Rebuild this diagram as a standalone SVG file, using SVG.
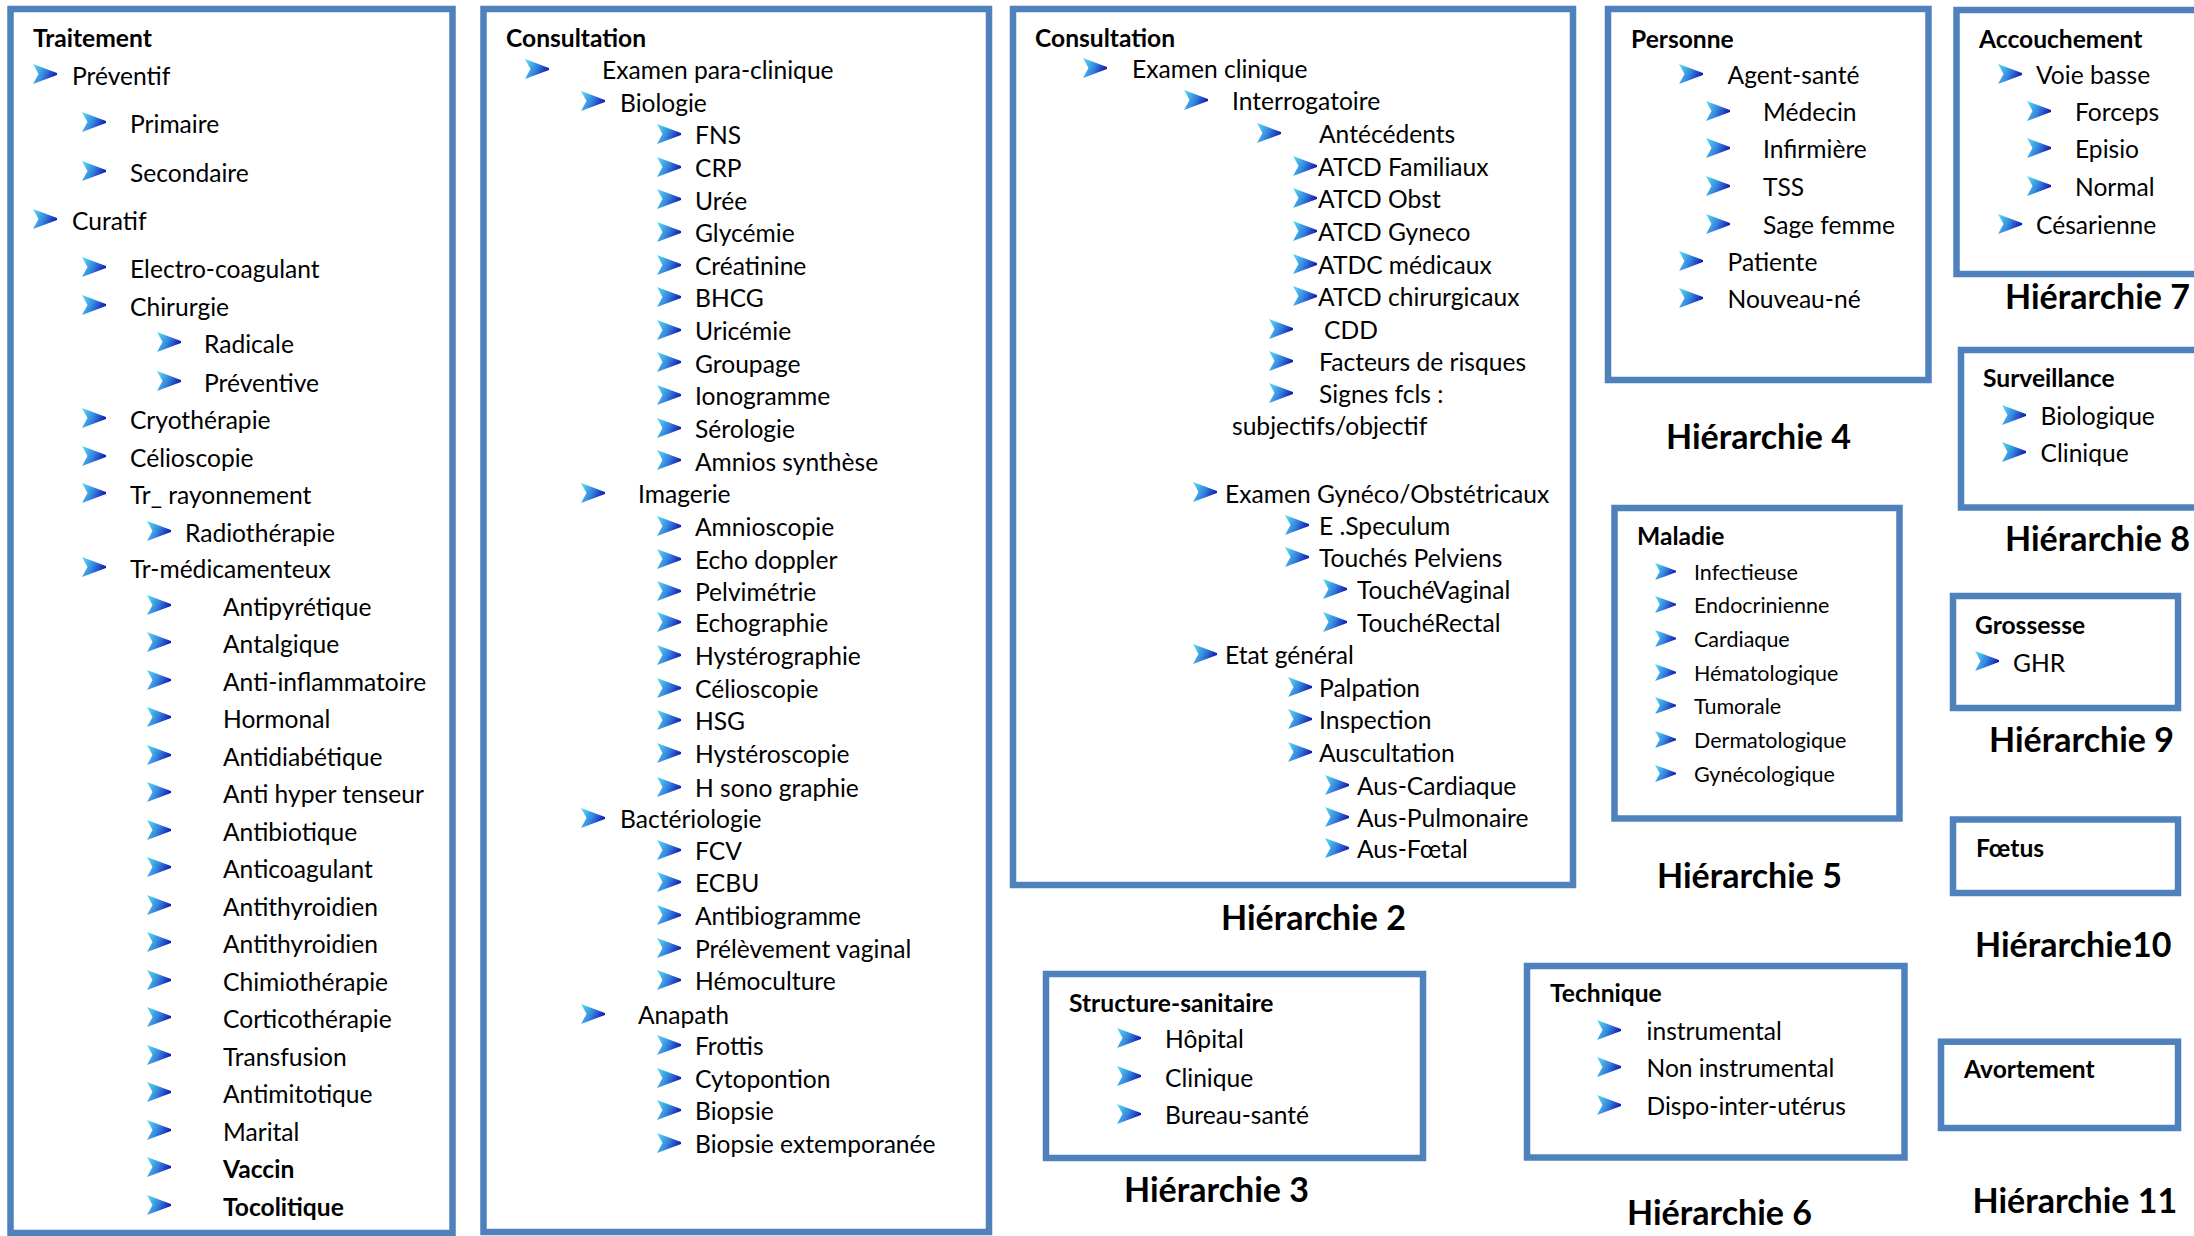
<svg xmlns="http://www.w3.org/2000/svg" xmlns:xlink="http://www.w3.org/1999/xlink" width="2194" height="1236" viewBox="0 0 2194 1236">
<defs>
<linearGradient id="ag" x1="0" y1="0.2" x2="1" y2="0.6">
<stop offset="0" stop-color="#55D8F2"/>
<stop offset="0.5" stop-color="#3484DE"/>
<stop offset="1" stop-color="#1010AC"/>
</linearGradient>
<symbol id="ar" viewBox="0 0 24 20" preserveAspectRatio="none">
<path d="M0,0 L12,4.5 L24,9 L24,11 L12,15.5 L0,20 L5.5,10 Z" fill="url(#ag)"/>
</symbol>
<style>
.box{fill:#fff;stroke:#4F81BD;stroke-width:6.5}
text{font-family:Lato,'Liberation Sans',sans-serif;font-size:24.6px;fill:#000}
.b{font-weight:bold}
.s{font-size:21.5px}
.lab{font-size:34px;font-weight:bold}
</style>
</defs>
<rect width="2194" height="1236" fill="#fff"/>

<g id="traitement">
<rect class="box" x="10.5" y="9" width="442" height="1224"/>
<text class="b" x="33" y="47">Traitement</text>
<use href="#ar" x="33" y="64" width="24" height="20"/><text x="72" y="85">Préventif</text>
<use href="#ar" x="82" y="112" width="24" height="20"/><text x="130" y="133">Primaire</text>
<use href="#ar" x="82" y="161" width="24" height="20"/><text x="130" y="182">Secondaire</text>
<use href="#ar" x="33" y="209" width="24" height="20"/><text x="72" y="230">Curatif</text>
<use href="#ar" x="82" y="257" width="24" height="20"/><text x="130" y="278">Electro-coagulant</text>
<use href="#ar" x="82" y="295" width="24" height="20"/><text x="130" y="316">Chirurgie</text>
<use href="#ar" x="157" y="332" width="24" height="20"/><text x="204" y="353">Radicale</text>
<use href="#ar" x="157" y="371" width="24" height="20"/><text x="204" y="392">Préventive</text>
<use href="#ar" x="82" y="408" width="24" height="20"/><text x="130" y="429">Cryothérapie</text>
<use href="#ar" x="82" y="446" width="24" height="20"/><text x="130" y="467">Célioscopie</text>
<use href="#ar" x="82" y="483" width="24" height="20"/><text x="130" y="504">Tr_ rayonnement</text>
<use href="#ar" x="147" y="521" width="24" height="20"/><text x="185" y="542">Radiothérapie</text>
<use href="#ar" x="82" y="557" width="24" height="20"/><text x="130" y="578">Tr-médicamenteux</text>
<use href="#ar" x="147" y="595" width="24" height="20"/><text x="223" y="616">Antipyrétique</text>
<use href="#ar" x="147" y="632" width="24" height="20"/><text x="223" y="653">Antalgique</text>
<use href="#ar" x="147" y="670" width="24" height="20"/><text x="223" y="691">Anti-inflammatoire</text>
<use href="#ar" x="147" y="707" width="24" height="20"/><text x="223" y="728">Hormonal</text>
<use href="#ar" x="147" y="745" width="24" height="20"/><text x="223" y="766">Antidiabétique</text>
<use href="#ar" x="147" y="782" width="24" height="20"/><text x="223" y="803">Anti hyper tenseur</text>
<use href="#ar" x="147" y="820" width="24" height="20"/><text x="223" y="841">Antibiotique</text>
<use href="#ar" x="147" y="857" width="24" height="20"/><text x="223" y="878">Anticoagulant</text>
<use href="#ar" x="147" y="895" width="24" height="20"/><text x="223" y="916">Antithyroidien</text>
<use href="#ar" x="147" y="932" width="24" height="20"/><text x="223" y="953">Antithyroidien</text>
<use href="#ar" x="147" y="970" width="24" height="20"/><text x="223" y="991">Chimiothérapie</text>
<use href="#ar" x="147" y="1007" width="24" height="20"/><text x="223" y="1028">Corticothérapie</text>
<use href="#ar" x="147" y="1045" width="24" height="20"/><text x="223" y="1066">Transfusion</text>
<use href="#ar" x="147" y="1082" width="24" height="20"/><text x="223" y="1103">Antimitotique</text>
<use href="#ar" x="147" y="1120" width="24" height="20"/><text x="223" y="1141">Marital</text>
<use href="#ar" x="147" y="1157" width="24" height="20"/><text class="b" x="223" y="1178">Vaccin</text>
<use href="#ar" x="147" y="1195" width="24" height="20"/><text class="b" x="223" y="1216">Tocolitique</text>
</g>

<g id="paraclinique">
<rect class="box" x="483.5" y="9" width="505.5" height="1223"/>
<text class="b" x="506" y="47">Consultation</text>
<use href="#ar" x="525" y="59" width="24" height="20"/><text x="602" y="79">Examen para-clinique</text>
<use href="#ar" x="581" y="91" width="24" height="20"/><text x="620" y="111.5">Biologie</text>
<use href="#ar" x="657" y="124" width="24" height="20"/><text x="695" y="144">FNS</text>
<use href="#ar" x="657" y="157" width="24" height="20"/><text x="695" y="177">CRP</text>
<use href="#ar" x="657" y="189" width="24" height="20"/><text x="695" y="209.5">Urée</text>
<use href="#ar" x="657" y="222" width="24" height="20"/><text x="695" y="242">Glycémie</text>
<use href="#ar" x="657" y="255" width="24" height="20"/><text x="695" y="275">Créatinine</text>
<use href="#ar" x="657" y="287" width="24" height="20"/><text x="695" y="307">BHCG</text>
<use href="#ar" x="657" y="320" width="24" height="20"/><text x="695" y="340">Uricémie</text>
<use href="#ar" x="657" y="352" width="24" height="20"/><text x="695" y="372.5">Groupage</text>
<use href="#ar" x="657" y="385" width="24" height="20"/><text x="695" y="405">Ionogramme</text>
<use href="#ar" x="657" y="418" width="24" height="20"/><text x="695" y="438">Sérologie</text>
<use href="#ar" x="657" y="450" width="24" height="20"/><text x="695" y="470.5">Amnios synthèse</text>
<use href="#ar" x="581" y="483" width="24" height="20"/><text x="638" y="503">Imagerie</text>
<use href="#ar" x="657" y="516" width="24" height="20"/><text x="695" y="536">Amnioscopie</text>
<use href="#ar" x="657" y="549" width="24" height="20"/><text x="695" y="569">Echo doppler</text>
<use href="#ar" x="657" y="581" width="24" height="20"/><text x="695" y="601">Pelvimétrie</text>
<use href="#ar" x="657" y="612" width="24" height="20"/><text x="695" y="632">Echographie</text>
<use href="#ar" x="657" y="645" width="24" height="20"/><text x="695" y="665">Hystérographie</text>
<use href="#ar" x="657" y="678" width="24" height="20"/><text x="695" y="698">Célioscopie</text>
<use href="#ar" x="657" y="710" width="24" height="20"/><text x="695" y="730">HSG</text>
<use href="#ar" x="657" y="743" width="24" height="20"/><text x="695" y="763">Hystéroscopie</text>
<use href="#ar" x="657" y="777" width="24" height="20"/><text x="695" y="797">H sono graphie</text>
<use href="#ar" x="581" y="808" width="24" height="20"/><text x="620" y="828">Bactériologie</text>
<use href="#ar" x="657" y="840" width="24" height="20"/><text x="695" y="860">FCV</text>
<use href="#ar" x="657" y="872" width="24" height="20"/><text x="695" y="892">ECBU</text>
<use href="#ar" x="657" y="905" width="24" height="20"/><text x="695" y="925">Antibiogramme</text>
<use href="#ar" x="657" y="938" width="24" height="20"/><text x="695" y="958">Prélèvement vaginal</text>
<use href="#ar" x="657" y="970" width="24" height="20"/><text x="695" y="990">Hémoculture</text>
<use href="#ar" x="581" y="1004" width="24" height="20"/><text x="638" y="1024">Anapath</text>
<use href="#ar" x="657" y="1035" width="24" height="20"/><text x="695" y="1055">Frottis</text>
<use href="#ar" x="657" y="1068" width="24" height="20"/><text x="695" y="1088">Cytopontion</text>
<use href="#ar" x="657" y="1100" width="24" height="20"/><text x="695" y="1120">Biopsie</text>
<use href="#ar" x="657" y="1133" width="24" height="20"/><text x="695" y="1153">Biopsie extemporanée</text>
</g>

<g id="clinique">
<rect class="box" x="1013" y="9" width="560" height="876"/>
<text class="b" x="1035" y="47">Consultation</text>
<use href="#ar" x="1083" y="58" width="24" height="20"/><text x="1132" y="78">Examen clinique</text>
<use href="#ar" x="1184" y="90" width="24" height="20"/><text x="1232" y="110">Interrogatoire</text>
<use href="#ar" x="1257" y="123" width="24" height="20"/><text x="1319" y="143">Antécédents</text>
<use href="#ar" x="1293" y="156" width="24" height="20"/><text x="1318" y="176">ATCD Familiaux</text>
<use href="#ar" x="1293" y="188" width="24" height="20"/><text x="1318" y="208">ATCD Obst</text>
<use href="#ar" x="1293" y="221" width="24" height="20"/><text x="1318" y="241">ATCD Gyneco</text>
<use href="#ar" x="1293" y="254" width="24" height="20"/><text x="1318" y="274">ATDC médicaux</text>
<use href="#ar" x="1293" y="286" width="24" height="20"/><text x="1318" y="306">ATCD chirurgicaux</text>
<use href="#ar" x="1269" y="319" width="24" height="20"/><text x="1324" y="339">CDD</text>
<use href="#ar" x="1269" y="351" width="24" height="20"/><text x="1319" y="371">Facteurs de risques</text>
<use href="#ar" x="1269" y="383" width="24" height="20"/><text x="1319" y="403">Signes fcls :</text>
<text x="1232" y="435">subjectifs/objectif</text>
<use href="#ar" x="1193" y="482" width="24" height="20"/><text x="1225" y="503">Examen Gynéco/Obstétricaux</text>
<use href="#ar" x="1285" y="515" width="24" height="20"/><text x="1319" y="535">E .Speculum</text>
<use href="#ar" x="1285" y="547" width="24" height="20"/><text x="1319" y="567">Touchés Pelviens</text>
<use href="#ar" x="1323" y="579" width="24" height="20"/><text x="1357" y="599">TouchéVaginal</text>
<use href="#ar" x="1323" y="612" width="24" height="20"/><text x="1357" y="632">TouchéRectal</text>
<use href="#ar" x="1193" y="644" width="24" height="20"/><text x="1225" y="664">Etat général</text>
<use href="#ar" x="1288" y="677" width="24" height="20"/><text x="1319" y="697">Palpation</text>
<use href="#ar" x="1288" y="709" width="24" height="20"/><text x="1319" y="729">Inspection</text>
<use href="#ar" x="1288" y="742" width="24" height="20"/><text x="1319" y="762">Auscultation</text>
<use href="#ar" x="1325" y="775" width="24" height="20"/><text x="1357" y="795">Aus-Cardiaque</text>
<use href="#ar" x="1325" y="807" width="24" height="20"/><text x="1357" y="827">Aus-Pulmonaire</text>
<use href="#ar" x="1325" y="838" width="24" height="20"/><text x="1357" y="858">Aus-Fœtal</text>
<text class="lab" x="1221" y="930">Hiérarchie 2</text>
</g>

<g id="structure">
<rect class="box" x="1046" y="974" width="377" height="184"/>
<text class="b" x="1069" y="1012">Structure-sanitaire</text>
<use href="#ar" x="1117" y="1028" width="24" height="20"/><text x="1165" y="1048">Hôpital</text>
<use href="#ar" x="1117" y="1066" width="24" height="20"/><text x="1165" y="1087">Clinique</text>
<use href="#ar" x="1117" y="1104" width="24" height="20"/><text x="1165" y="1124">Bureau-santé</text>
<text class="lab" x="1124" y="1202">Hiérarchie 3</text>
</g>

<g id="personne">
<rect class="box" x="1608" y="9" width="320.5" height="371"/>
<text class="b" x="1631" y="47.5">Personne</text>
<use href="#ar" x="1679" y="64" width="24" height="20"/><text x="1727.5" y="84">Agent-santé</text>
<use href="#ar" x="1706" y="101" width="24" height="20"/><text x="1763" y="121">Médecin</text>
<use href="#ar" x="1706" y="138" width="24" height="20"/><text x="1763" y="158">Infirmière</text>
<use href="#ar" x="1706" y="176" width="24" height="20"/><text x="1763" y="196">TSS</text>
<use href="#ar" x="1706" y="214" width="24" height="20"/><text x="1763" y="234">Sage femme</text>
<use href="#ar" x="1679" y="251" width="24" height="20"/><text x="1727.5" y="271">Patiente</text>
<use href="#ar" x="1679" y="288" width="24" height="20"/><text x="1727.5" y="308">Nouveau-né</text>
<text class="lab" x="1666" y="449">Hiérarchie 4</text>
</g>

<g id="maladie">
<rect class="box" x="1614.5" y="508" width="285" height="310.5"/>
<text class="b" x="1637" y="544.5">Maladie</text>
<use href="#ar" x="1655" y="563" width="21" height="17"/><text class="s" x="1694" y="580">Infectieuse</text>
<use href="#ar" x="1655" y="596" width="21" height="17"/><text class="s" x="1694" y="613">Endocrinienne</text>
<use href="#ar" x="1655" y="630" width="21" height="17"/><text class="s" x="1694" y="647">Cardiaque</text>
<use href="#ar" x="1655" y="664" width="21" height="17"/><text class="s" x="1694" y="681">Hématologique</text>
<use href="#ar" x="1655" y="697" width="21" height="17"/><text class="s" x="1694" y="714">Tumorale</text>
<use href="#ar" x="1655" y="731" width="21" height="17"/><text class="s" x="1694" y="748">Dermatologique</text>
<use href="#ar" x="1655" y="765" width="21" height="17"/><text class="s" x="1694" y="782">Gynécologique</text>
<text class="lab" x="1657" y="888">Hiérarchie 5</text>
</g>

<g id="technique">
<rect class="box" x="1527" y="966" width="377.5" height="191.5"/>
<text class="b" x="1550" y="1002">Technique</text>
<use href="#ar" x="1597" y="1020" width="24" height="20"/><text x="1646.5" y="1040">instrumental</text>
<use href="#ar" x="1597" y="1057" width="24" height="20"/><text x="1646.5" y="1077">Non instrumental</text>
<use href="#ar" x="1597" y="1095" width="24" height="20"/><text x="1646.5" y="1115">Dispo-inter-utérus</text>
<text class="lab" x="1627" y="1225">Hiérarchie 6</text>
</g>

<g id="accouchement">
<rect class="box" x="1956.5" y="10" width="260" height="264"/>
<text class="b" x="1979" y="47.5">Accouchement</text>
<use href="#ar" x="1998" y="64" width="24" height="20"/><text x="2036" y="84">Voie basse</text>
<use href="#ar" x="2027" y="101" width="24" height="20"/><text x="2075" y="121">Forceps</text>
<use href="#ar" x="2027" y="138" width="24" height="20"/><text x="2075" y="158">Episio</text>
<use href="#ar" x="2027" y="176" width="24" height="20"/><text x="2075" y="196">Normal</text>
<use href="#ar" x="1998" y="214" width="24" height="20"/><text x="2036" y="234">Césarienne</text>
<text class="lab" x="2005" y="309">Hiérarchie 7</text>
</g>

<g id="surveillance">
<rect class="box" x="1961" y="350" width="260" height="157.5"/>
<text class="b" x="1983" y="387">Surveillance</text>
<use href="#ar" x="2002" y="405" width="24" height="20"/><text x="2040.5" y="425">Biologique</text>
<use href="#ar" x="2002" y="442" width="24" height="20"/><text x="2040.5" y="462">Clinique</text>
<text class="lab" x="2005" y="551">Hiérarchie 8</text>
</g>

<g id="grossesse">
<rect class="box" x="1953" y="596" width="225" height="112"/>
<text class="b" x="1975" y="634">Grossesse</text>
<use href="#ar" x="1975" y="651" width="24" height="20"/><text x="2013" y="672">GHR</text>
<text class="lab" x="1989" y="752">Hiérarchie 9</text>
</g>

<g id="foetus">
<rect class="box" x="1953" y="819.5" width="225" height="73.5"/>
<text class="b" x="1976" y="857">Fœtus</text>
<text class="lab" x="1975" y="957">Hiérarchie10</text>
</g>

<g id="avortement">
<rect class="box" x="1941" y="1041.7" width="237" height="86.3"/>
<text class="b" x="1964" y="1078">Avortement</text>
<text class="lab" x="1972.5" y="1213">Hiérarchie 11</text>
</g>
</svg>
